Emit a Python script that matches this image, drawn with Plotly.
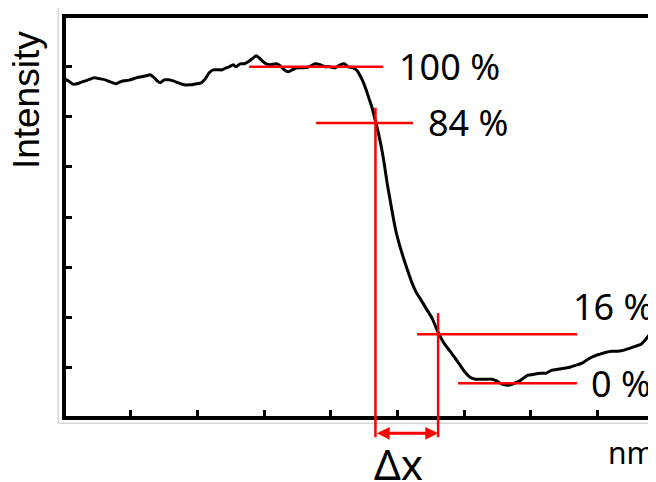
import plotly.graph_objects as go

# ---- data (position in tick units, intensity in tick units) ----
position = [0.00, 0.06, 0.12, 0.195, 0.27, 0.36, 0.45, 0.54, 0.615, 0.69, 0.78, 0.84, 0.90, 0.99,
            1.08, 1.155, 1.23, 1.29, 1.335, 1.395, 1.44, 1.50, 1.56, 1.635, 1.71, 1.80, 1.89, 1.98,
            2.055, 2.115, 2.175, 2.235, 2.31, 2.37, 2.43, 2.475, 2.535, 2.58, 2.64, 2.70, 2.76, 2.82,
            2.88, 2.925, 2.97, 3.03, 3.09, 3.18, 3.24, 3.30, 3.36, 3.42, 3.495, 3.585, 3.675, 3.765,
            3.84, 3.915, 3.99, 4.065, 4.14, 4.20, 4.26, 4.335, 4.395, 4.44, 4.485, 4.53, 4.575, 4.62,
            4.665, 4.71, 4.755, 4.80, 4.845, 4.89, 4.935, 4.98, 5.04, 5.10, 5.16, 5.22, 5.28, 5.355,
            5.445, 5.52, 5.595, 5.655, 5.73, 5.79, 5.865, 5.94, 6.015, 6.09, 6.165, 6.24, 6.33, 6.42,
            6.495, 6.57, 6.645, 6.72, 6.795, 6.87, 6.96, 7.05, 7.14, 7.23, 7.32, 7.41, 7.50, 7.59,
            7.68, 7.77, 7.86, 7.95, 8.04, 8.13, 8.22, 8.31, 8.40, 8.49, 8.58, 8.655, 8.715, 8.775,
            8.82, 8.865, 8.94, 9.03]
intensity = [6.76, 6.72, 6.66, 6.66, 6.70, 6.74, 6.78, 6.76, 6.74, 6.70, 6.66, 6.70, 6.72, 6.74,
             6.78, 6.80, 6.82, 6.84, 6.80, 6.72, 6.68, 6.74, 6.74, 6.72, 6.68, 6.64, 6.64, 6.66,
             6.68, 6.76, 6.88, 6.94, 6.94, 6.94, 6.98, 7.00, 7.04, 7.00, 7.06, 7.06, 7.10, 7.16,
             7.22, 7.18, 7.12, 7.06, 7.04, 7.06, 7.02, 6.94, 6.90, 6.94, 6.98, 6.98, 7.00, 7.06,
             7.04, 7.00, 7.00, 6.98, 7.04, 7.06, 7.00, 6.98, 6.92, 6.82, 6.70, 6.54, 6.36, 6.18,
             5.94, 5.70, 5.42, 5.08, 4.68, 4.34, 4.00, 3.70, 3.40, 3.14, 2.90, 2.68, 2.50, 2.34,
             2.14, 1.98, 1.74, 1.58, 1.42, 1.32, 1.18, 1.04, 0.90, 0.80, 0.76, 0.76, 0.76, 0.76,
             0.72, 0.66, 0.64, 0.66, 0.70, 0.76, 0.84, 0.86, 0.88, 0.88, 0.94, 0.96, 0.98, 1.00,
             1.04, 1.08, 1.16, 1.22, 1.26, 1.30, 1.32, 1.32, 1.34, 1.38, 1.42, 1.46, 1.54, 1.64,
             1.76, 1.90, 2.10, 2.34]

level_labels = ["100 %", "84 %", "16 %", "0 %"]
level_values = [7.00, 5.88, 1.66, 0.68]
level_x_start = [2.775, 3.78, 5.295, 5.91]
level_x_end = [4.785, 5.235, 7.695, 7.695]
label_x = [4.99, 5.43, 7.60, 7.88]
label_y = [7.00, 5.88, 2.22, 0.68]

edge_x = [4.67, 5.61]          # 84 % and 16 % crossing positions
edge_top = [6.18, 2.08]
edge_bottom = -0.40
arrow_y = -0.32

X_RANGE = [0.02625, 8.88]
Y_RANGE = [0.025, 7.975]

# page offset (body margin) and figure geometry
OFF = 8
W, H = 656 - OFF, 482 - OFF
ML, MR, MT = 65.75 - OFF, 0, 18.25 - OFF
MB = H - (415.75 - OFF)
PW, PH = W - ML - MR, H - MT - MB


def yp(v):
    return (v - Y_RANGE[0]) / (Y_RANGE[1] - Y_RANGE[0])


def px2paper_x(px):
    return (px - OFF - ML) / PW


def py2paper_y(py):
    return (H - MB - (py - OFF)) / PH


RED = "#ff0000"

fig = go.Figure()
fig.add_trace(go.Scatter(x=position, y=intensity, mode="lines",
                         line=dict(color="black", width=3, shape="spline", smoothing=0.5),
                         hoverinfo="skip", showlegend=False))

shapes = []
# outer light grey frame (left and bottom)
shapes.append(dict(type="line", xref="paper", yref="paper",
                   x0=px2paper_x(58), x1=px2paper_x(58), y0=py2paper_y(5), y1=py2paper_y(423),
                   line=dict(color="#d6d6d6", width=1.5)))
shapes.append(dict(type="line", xref="paper", yref="paper",
                   x0=px2paper_x(58), x1=px2paper_x(660), y0=py2paper_y(423), y1=py2paper_y(423),
                   line=dict(color="#d6d6d6", width=1.5)))
for v, xs, xe in zip(level_values, level_x_start, level_x_end):
    shapes.append(dict(type="line", xref="x", yref="y", x0=xs, x1=xe, y0=v, y1=v,
                       line=dict(color=RED, width=2.5)))
for xv, top in zip(edge_x, edge_top):
    shapes.append(dict(type="line", xref="x", yref="paper", x0=xv, x1=xv,
                       y0=yp(top), y1=yp(edge_bottom), line=dict(color=RED, width=2.5)))

annotations = []
for t, lx, ly in zip(level_labels, label_x, label_y):
    annotations.append(dict(text=t, x=lx, y=yp(ly), xref="x", yref="paper",
                            xanchor="left", yanchor="middle", showarrow=False,
                            font=dict(family="Noto Sans", size=36, color="black")))
# double-headed arrow for delta x
annotations.append(dict(text="", x=edge_x[1], y=yp(arrow_y), xref="x", yref="paper",
                        ax=edge_x[0], ay=0, axref="x", ayref="pixel",
                        showarrow=True, arrowhead=2, startarrowhead=2, arrowside="end+start",
                        arrowsize=0.85, startarrowsize=0.85, arrowwidth=3, arrowcolor=RED,
                        standoff=0, startstandoff=0))
annotations.append(dict(text="Δx", x=5.01, y=py2paper_y(463), xref="x", yref="paper",
                        xanchor="center", yanchor="middle", showarrow=False,
                        font=dict(family="Noto Sans", size=42, color="black")))
annotations.append(dict(text="nm", x=px2paper_x(606), y=py2paper_y(452), xref="paper", yref="paper",
                        xanchor="left", yanchor="middle", showarrow=False,
                        font=dict(family="Noto Sans", size=30, color="black")))
annotations.append(dict(text="Intensity", x=px2paper_x(27), y=py2paper_y(100), xref="paper", yref="paper",
                        xanchor="center", yanchor="middle", showarrow=False, textangle=-90,
                        font=dict(family="Liberation Sans", size=37, color="black")))

fig.update_layout(
    width=W, height=H,
    margin=dict(l=ML, r=MR, t=MT, b=MB, pad=0),
    paper_bgcolor="white", plot_bgcolor="white",
    shapes=shapes, annotations=annotations,
    xaxis=dict(range=X_RANGE, showgrid=False, zeroline=False, showticklabels=False,
               showline=True, linecolor="black", linewidth=3.5, mirror=True,
               ticks="inside", ticklen=6, tickwidth=2.5, tickcolor="black",
               tickmode="linear", tick0=0, dtick=1),
    yaxis=dict(range=Y_RANGE, showgrid=False, zeroline=False, showticklabels=False,
               showline=True, linecolor="black", linewidth=3.5, mirror=False,
               ticks="inside", ticklen=6, tickwidth=2.5, tickcolor="black",
               tickmode="linear", tick0=0, dtick=1),
    showlegend=False,
)

fig.write_html("out.html")
